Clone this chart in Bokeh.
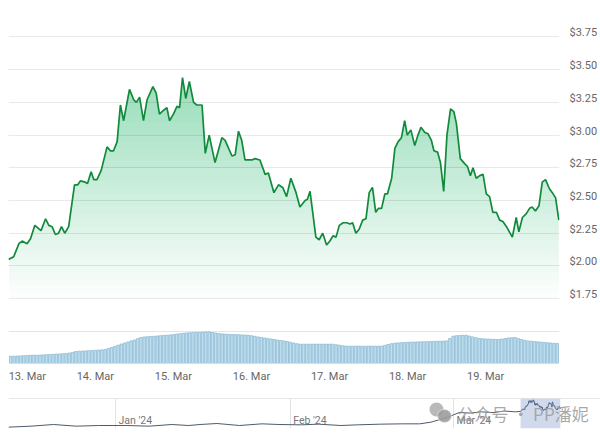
import numpy as np
import pandas as pd
from bokeh.plotting import figure
from bokeh.models import (Range1d, LinearAxis, FixedTicker, Grid, DatetimeTickFormatter,
                          Span, Label, BoxAnnotation, NumeralTickFormatter, ColumnDataSource)
from bokeh.embed import file_html
from bokeh.resources import INLINE
from bokeh.core.properties import value

# ---------------- data ----------------
START = pd.Timestamp("2024-03-13 00:00")

price_hours = [-2.7, -1.1, 0.5, 1.5, 3.0, 4.1, 5.4, 7.3, 8.7, 9.7,
               10.7, 11.7, 12.7, 13.6, 14.6, 15.8, 17.6, 18.6, 19.4, 20.9,
               21.6, 22.7, 23.5, 24.5, 25.8, 27.6, 28.6, 29.6, 30.7, 31.7,
               32.7, 34.5, 35.8, 36.6, 37.6, 38.8, 39.9, 41.7, 42.7, 43.7,
               45.0, 46.0, 46.8, 48.0, 49.1, 49.9, 50.8, 51.8, 52.9, 54.2,
               55.2, 56.8, 57.8, 59.0, 60.8, 62.9, 63.9, 66.0, 67.0, 68.0,
               69.0, 70.0, 72.1, 73.1, 74.6, 76.2, 77.2, 78.9, 80.3, 81.6,
               82.8, 84.1, 85.7, 86.9, 88.5, 89.2, 90.0, 91.8, 92.8, 93.9,
               95.1, 96.1, 97.1, 98.0, 99.0, 100.2, 101.3, 102.3, 103.1, 104.1,
               105.1, 106.2, 107.2, 108.2, 109.2, 110.2, 111.0, 112.0, 113.0, 113.8,
               115.1, 116.1, 117.1, 118.1, 119.1, 119.9, 121.0, 122.2, 123.2, 124.1,
               125.3, 126.3, 127.3, 128.1, 129.2, 130.1, 131.1, 132.1, 133.2, 134.2,
               135.0, 136.2, 137.6, 138.4, 139.3, 140.1, 141.1, 142.2, 143.2, 144.2,
               145.2, 146.2, 147.3, 148.3, 149.3, 150.4, 152.2, 153.4, 154.2, 155.3,
               156.5, 157.5, 158.3, 159.3, 160.4, 161.4, 162.4, 163.6, 164.5, 165.5,
               166.5]

price_values = [2.05, 2.07, 2.17, 2.19, 2.17, 2.21, 2.31, 2.27, 2.36, 2.31,
                2.30, 2.24, 2.25, 2.30, 2.25, 2.30, 2.62, 2.62, 2.65, 2.64,
                2.63, 2.72, 2.66, 2.66, 2.73, 2.91, 2.88, 2.88, 2.95, 3.23,
                3.11, 3.35, 3.27, 3.25, 3.29, 3.11, 3.27, 3.37, 3.32, 3.16,
                3.19, 3.21, 3.11, 3.16, 3.22, 3.21, 3.44, 3.28, 3.41, 3.25,
                3.23, 3.23, 2.86, 3.00, 2.79, 2.98, 2.96, 2.84, 2.85, 3.03,
                2.96, 2.81, 2.81, 2.82, 2.81, 2.70, 2.71, 2.56, 2.62, 2.60,
                2.53, 2.67, 2.56, 2.45, 2.50, 2.51, 2.57, 2.22, 2.20, 2.25,
                2.16, 2.19, 2.23, 2.22, 2.31, 2.33, 2.33, 2.32, 2.33, 2.25,
                2.28, 2.35, 2.36, 2.56, 2.60, 2.41, 2.44, 2.44, 2.55, 2.55,
                2.67, 2.90, 2.95, 2.98, 3.11, 3.00, 3.04, 2.92, 3.00, 3.06,
                3.02, 3.01, 2.96, 2.88, 2.87, 2.79, 2.57, 3.00, 3.20, 3.18,
                3.09, 2.82, 2.78, 2.76, 2.69, 2.75, 2.67, 2.69, 2.70, 2.55,
                2.53, 2.41, 2.41, 2.35, 2.34, 2.30, 2.22, 2.37, 2.26, 2.37,
                2.40, 2.44, 2.45, 2.42, 2.46, 2.64, 2.66, 2.59, 2.56, 2.52,
                2.35]

volume_start_hour = -2
volume_values = [7.3, 7.3, 7.5, 7.6, 7.8, 8.0, 8.2, 8.3,
                 8.3, 8.5, 8.6, 8.8, 9.0, 9.2, 9.4, 9.6, 9.8, 10.0,
                 10.5, 11.2, 12.0, 12.3,
                 12.5, 12.6, 12.8, 13.0, 13.2, 13.4, 13.6, 14.0,
                 15.0, 16.0, 17.2, 18.3,
                 19.5, 20.5, 21.5, 22.6, 23.5,
                 24.8, 26.0, 26.6,
                 26.8, 27.0, 27.2, 27.5, 27.8, 28.0, 28.3,
                 28.6, 29.0, 29.4, 29.8, 30.2, 30.6, 30.8, 31.0,
                 31.0, 31.2, 31.4, 31.6, 31.6,
                 31.0, 30.5, 30.0, 29.6, 29.3,
                 29.2, 29.0, 28.9, 28.8, 28.6, 28.5, 28.3,
                 27.8, 27.2, 26.6, 26.0, 25.5, 25.0,
                 24.5, 24.0, 23.5, 23.0, 22.6,
                 22.0, 21.2, 20.5, 19.8, 19.3,
                 19.3, 19.3, 19.4, 19.3, 19.4, 19.3, 19.3, 19.4, 19.3, 19.3,
                 18.8, 18.3, 17.8, 17.5, 17.3,
                 17.3, 17.3, 17.4, 17.3, 17.3, 17.4, 17.3, 17.3, 17.4, 17.3,
                 18.2, 19.0, 19.8, 20.3, 20.6,
                 20.8, 21.0, 21.2, 21.4, 21.5, 21.6,
                 21.7, 21.8, 21.9, 22.0, 22.1, 22.2, 22.3, 22.4, 22.6,
                 25.0, 27.3, 27.8, 28.0, 28.2, 28.3,
                 27.5, 26.6, 25.8, 25.0,
                 24.8, 24.6, 24.4, 24.2, 24.1, 24.0,
                 24.5, 25.0, 25.5, 25.8, 26.0,
                 25.0, 24.0, 23.2, 22.6,
                 22.3, 22.0, 21.7, 21.4, 21.1, 20.8, 20.5, 20.2, 20.0]

y_ticks = [1.75, 2.00, 2.25, 2.50, 2.75, 3.00, 3.25, 3.50, 3.75]
day_ticks = ["2024-03-13", "2024-03-14", "2024-03-15", "2024-03-16",
             "2024-03-17", "2024-03-18", "2024-03-19"]
day_labels = ["13. Mar", "14. Mar", "15. Mar", "16. Mar", "17. Mar", "18. Mar", "19. Mar"]

nav_dates = ["2023-12-13", "2023-12-17", "2023-12-21", "2023-12-25", "2023-12-29",
             "2024-01-03", "2024-01-07", "2024-01-11", "2024-01-14", "2024-01-16",
             "2024-01-19", "2024-01-23", "2024-01-27", "2024-01-30", "2024-02-03",
             "2024-02-06", "2024-02-10", "2024-02-13", "2024-02-17", "2024-02-21",
             "2024-02-24", "2024-02-26", "2024-02-28", "2024-02-29", "2024-03-02",
             "2024-03-04", "2024-03-06", "2024-03-08", "2024-03-10", "2024-03-12"]
nav_values = [0.16, 0.28, 0.48, 0.28, 0.36, 0.36, 0.28, 0.48, 0.36, 0.48,
              0.60, 0.36, 0.56, 0.48, 0.44, 0.52, 0.36, 0.44, 0.52, 0.56,
              0.56, 0.76, 1.16, 1.36, 1.92, 1.85, 2.00, 1.90, 2.10, 2.00]
nav_months = ["2024-01-01", "2024-02-01", "2024-03-01"]
nav_month_labels = ["Jan '24", "Feb '24", "Mar '24"]
watermark = "公众号 · PP潘妮"

# ---------------- derived ----------------
price_t = START + pd.to_timedelta(price_hours, unit="h")
prices = np.array(price_values)
vol_t = START + pd.to_timedelta(volume_start_hour + np.arange(len(volume_values)), unit="h")

x_start = START - pd.Timedelta(hours=2.7)
x_end = START + pd.Timedelta(hours=166.7)

PX_PER_USD = 130.8
y_lo, y_hi = 1.254, 3.876
lab_shift = 4 / PX_PER_USD

FONT = "Roboto"
GRAY = "#666666"

# ---------------- main figure ----------------
p = figure(width=600, height=385, x_axis_type="datetime",
           x_range=Range1d(x_start, x_end), y_range=Range1d(y_lo, y_hi),
           y_axis_location=None, output_backend="svg", toolbar_location=None,
           min_border_left=8, min_border_right=40, min_border_top=20, min_border_bottom=22,
           outline_line_color=None, background_fill_color="white", border_fill_color="white")
p.xgrid.visible = False

p.extra_y_ranges = {"lab": Range1d(y_lo - lab_shift, y_hi - lab_shift),
                    "vol": Range1d(0, 343)}

p.add_layout(Grid(dimension=1, ticker=FixedTicker(ticks=y_ticks),
                  grid_line_color="#e9e9e9", grid_line_width=1))

yaxis = LinearAxis(y_range_name="lab", ticker=FixedTicker(ticks=y_ticks),
                   formatter=NumeralTickFormatter(format="$0.00"))
yaxis.axis_line_color = None
yaxis.major_tick_line_color = None
yaxis.minor_tick_line_color = None
yaxis.major_tick_out = 0
yaxis.major_label_standoff = 10
yaxis.major_label_text_font = FONT
yaxis.major_label_text_font_size = "11px"
yaxis.major_label_text_color = GRAY
p.add_layout(yaxis, "right")

# gradient-like area fill: stacked translucent layers
levels = np.arange(1.75, 3.45, 0.05)
for L in levels:
    p.varea(x=price_t, y1=np.full(len(prices), L), y2=np.maximum(prices, L),
            fill_color="#0fae48", fill_alpha=0.0105)

p.line(price_t, prices, line_color="#118a3c", line_width=1.7)

# volume
p.vbar(x=vol_t, top=volume_values, bottom=0, width=0.78 * 3600 * 1000,
       y_range_name="vol", fill_color="#bcdeee", line_color="#86b5d0", line_width=0.7)

# x axis
xa = p.xaxis[0]
day_ms = [pd.Timestamp(d).value / 1e6 for d in day_ticks]
xa.ticker = FixedTicker(ticks=day_ms)
xa.formatter = DatetimeTickFormatter(days="%d. %b")
overrides = {ms: lab for ms, lab in zip(day_ms, day_labels)}
overrides[day_ms[0]] = "\u00a0\u00a0\u00a0" + day_labels[0]
xa.major_label_overrides = overrides
xa.axis_line_color = None
xa.major_tick_line_color = None
xa.minor_tick_line_color = None
xa.major_tick_out = 0
xa.major_label_standoff = 6
xa.major_label_text_font = FONT
xa.major_label_text_font_size = "11px"
xa.major_label_text_color = GRAY

# ---------------- navigator ----------------
nav_t = pd.to_datetime(nav_dates).append(price_t)
nav_v = np.concatenate([nav_values, prices])

n = figure(width=600, height=53, x_axis_type="datetime",
           x_range=Range1d(pd.Timestamp("2023-12-13"), pd.Timestamp("2024-03-27 02:00")),
           y_range=Range1d(0, 3.6), x_axis_location=None, y_axis_location=None,
           output_backend="svg", toolbar_location=None,
           min_border_left=8, min_border_right=0, min_border_top=13, min_border_bottom=10,
           outline_line_color=None, background_fill_color="white", border_fill_color="white")
n.frame_width = 592
n.frame_height = 30
n.xgrid.visible = False
n.ygrid.visible = False

month_ms = [pd.Timestamp(m).value / 1e6 for m in nav_months]
n.add_layout(Grid(dimension=0, ticker=FixedTicker(ticks=month_ms),
                  grid_line_color="#e3e3e3", grid_line_width=1))
n.add_layout(Span(location=3.6, dimension="width", line_color="#d0d0d0", line_width=1))

n.line(nav_t, nav_v, line_color="#4f5b6d", line_width=1)
n.add_layout(BoxAnnotation(left=x_start, right=x_end, fill_color="#6685c2", fill_alpha=0.3,
                           line_color=None))

src_m = ColumnDataSource(dict(x=pd.to_datetime(nav_months), y=[0, 0, 0], t=nav_month_labels))
n.text(x="x", y="y", text="t", source=src_m, x_offset=3, y_offset=-2,
       text_baseline="bottom", text_align="left", text_font=value(FONT),
       text_font_size="10.5px", text_color="#777777")

# watermark (icon + text)
n.add_layout(BoxAnnotation(left=421, right=435, bottom=12, top=26, left_units="screen",
                           right_units="screen", top_units="screen", bottom_units="screen",
                           border_radius=7, fill_color="#a8a8a8", fill_alpha=0.8, line_color=None))
n.add_layout(BoxAnnotation(left=429, right=443, bottom=6, top=19, left_units="screen",
                           right_units="screen", top_units="screen", bottom_units="screen",
                           border_radius=7, fill_color="#9c9c9c", fill_alpha=0.9,
                           line_color="white", line_width=1.5))
n.add_layout(Label(x=449, y=15, x_units="screen", y_units="screen", text=watermark,
                   text_font="Noto Sans CJK SC", text_font_size="17px",
                   text_color="#9a9a9a", text_alpha=0.85, text_baseline="middle"))

open("out.html", "w").write(file_html([p, n], INLINE))
